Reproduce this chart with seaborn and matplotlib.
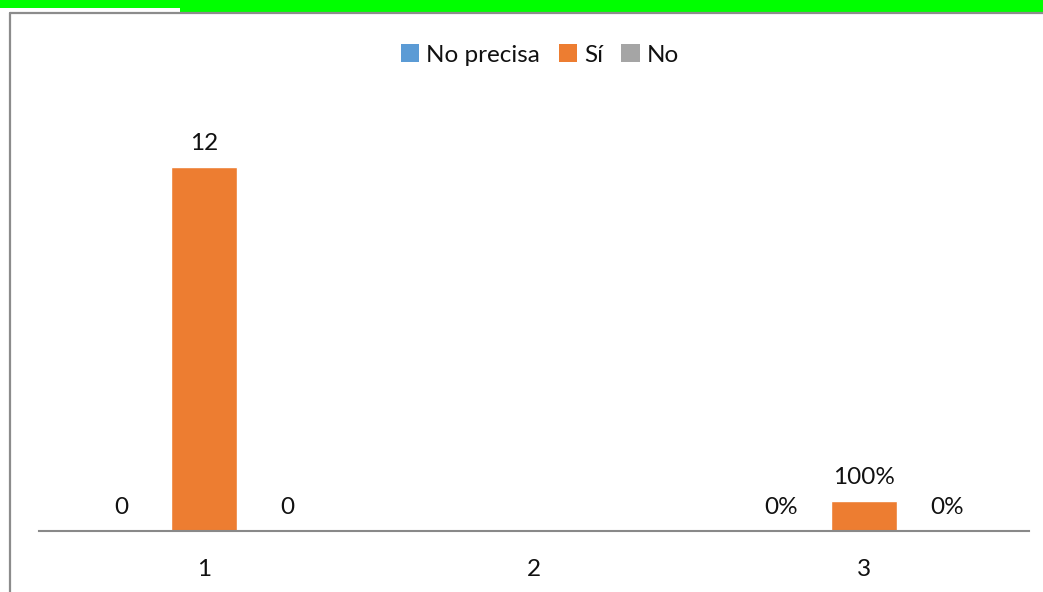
import numpy as np
import pandas as pd
import matplotlib
matplotlib.use("Agg")
import matplotlib.pyplot as plt
from matplotlib.patches import Rectangle
from matplotlib.lines import Line2D
import seaborn as sns

# Data
categories = ["1", "2", "3"]
series_names = ["No precisa", "Sí", "No"]
no_precisa = [0, np.nan, 0]
si = [12, np.nan, 1.0]
no = [0, np.nan, 0]
label_formats = {"1": "{:.0f}", "2": "{:.0f}", "3": "{:.0%}"}

colors = ["#5B9BD5", "#ED7D31", "#A5A5A5"]

rows = []
for name, vals in zip(series_names, [no_precisa, si, no]):
    for cat, v in zip(categories, vals):
        rows.append({"cat": cat, "serie": name, "valor": v})
df = pd.DataFrame(rows).dropna()

sns.set_theme(style="white")
plt.rcParams["font.family"] = ["Lato", "DejaVu Sans"]

W, H = 1043, 592
fig = plt.figure(figsize=(W / 100, H / 100), dpi=100)
fig.patch.set_facecolor("white")

# Frame decorations along the top and left edges
fig.patches.append(Rectangle((0, 1 - 12 / H), 1, 12 / H, transform=fig.transFigure,
                             facecolor="#00FF00", edgecolor="none", zorder=0))
fig.patches.append(Rectangle((0, 1 - 12 / H), 180 / W, 4 / H, transform=fig.transFigure,
                             facecolor="white", edgecolor="none", zorder=1))
fig.lines.append(Line2D([9.5 / W, 1], [1 - 13 / H, 1 - 13 / H], transform=fig.transFigure,
                        color="#8C8C8C", lw=1.6, zorder=2))
fig.lines.append(Line2D([10 / W, 10 / W], [0, 1 - 12.5 / H], transform=fig.transFigure,
                        color="#8C8C8C", lw=1.6, zorder=2))

ax = fig.add_axes([39 / W, 1 - 531 / H, 990 / W, (531 - 106) / H])

sns.barplot(data=df, x="cat", y="valor", hue="serie", order=categories,
            hue_order=series_names, palette=colors, width=0.755, gap=0.205,
            saturation=1, ax=ax, legend=False)

ax.set_ylim(0, 14)
ax.set_xlim(-0.5, 2.5)
ax.set_xlabel("")
ax.set_ylabel("")
ax.set_yticks([])
for s in ["top", "right", "left"]:
    ax.spines[s].set_visible(False)
ax.spines["bottom"].set_color("#898989")
ax.spines["bottom"].set_linewidth(1.5)
ax.tick_params(axis="x", length=0, pad=20, labelsize=17.5, labelcolor="#111111")

for cont in ax.containers:
    labels = []
    for bar in cont:
        idx = int(round(bar.get_x() + bar.get_width() / 2))
        labels.append(label_formats[categories[idx]].format(bar.get_height()))
    ax.bar_label(cont, labels=labels, padding=9, fontsize=17.5, color="#111111")

handles = [Rectangle((0, 0), 1, 1, facecolor=c, edgecolor="none") for c in colors]
fig.legend(handles, series_names, loc="center", bbox_to_anchor=(540 / W, 1 - 55 / H),
           ncol=3, frameon=False, fontsize=17.5, handlelength=0.75, handleheight=0.75,
           handletextpad=0.3, columnspacing=0.75, labelcolor="#111111")

fig.savefig("out.png", dpi=100)
